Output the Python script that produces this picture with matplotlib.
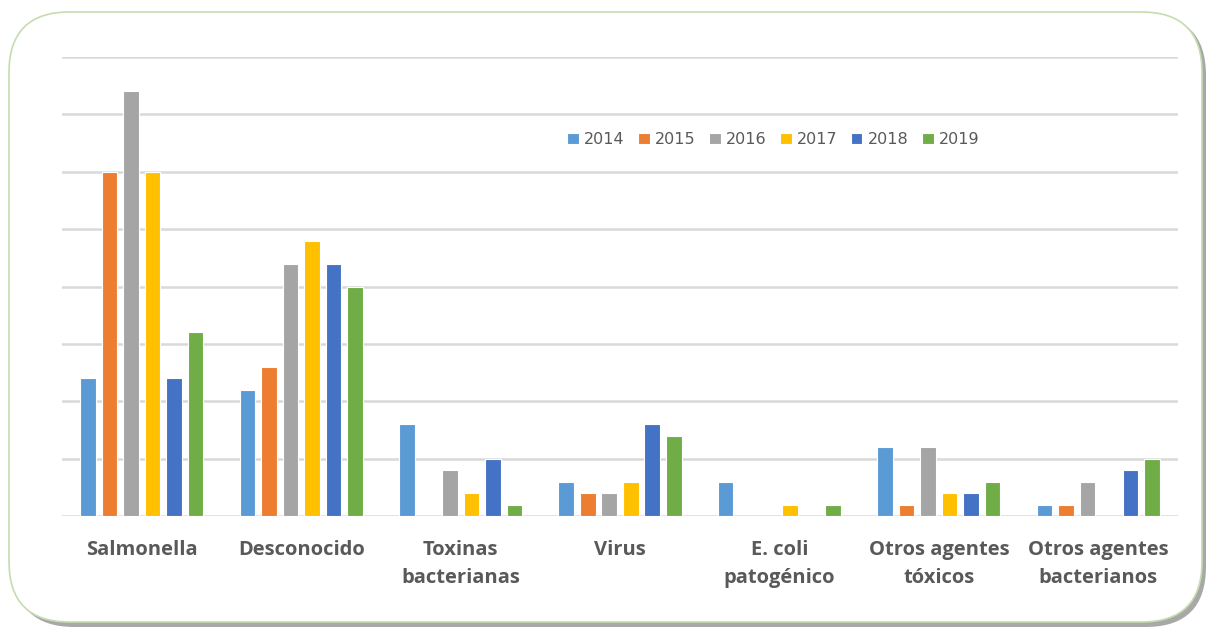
import numpy as np
import matplotlib.pyplot as plt
from matplotlib.patches import FancyBboxPatch

# Brotes por agente causal y año
categorias = ["Salmonella", "Desconocido", "Toxinas\nbacterianas", "Virus",
              "E. coli\npatogénico", "Otros agentes\ntóxicos", "Otros agentes\nbacterianos"]
anios = ["2014", "2015", "2016", "2017", "2018", "2019"]
v2014 = [12, 11, 8, 3, 3, 6, 1]
v2015 = [30, 13, 0, 2, 0, 1, 1]
v2016 = [37, 22, 4, 2, 0, 6, 3]
v2017 = [30, 24, 2, 3, 1, 2, 0]
v2018 = [12, 22, 5, 8, 0, 2, 4]
v2019 = [16, 20, 1, 7, 1, 3, 5]
colores = ["#5b9bd5", "#ed7d31", "#a5a5a5", "#ffc000", "#4472c4", "#70ad47"]

series = [v2014, v2015, v2016, v2017, v2018, v2019]

fig = plt.figure(figsize=(12.08, 6.31), dpi=100)

# marco redondeado con sombra
sombra = FancyBboxPatch((14 / 1208, 4 / 631), 1192 / 1208, 612 / 631,
                        boxstyle="round,pad=0,rounding_size=0.05",
                        transform=fig.transFigure, facecolor="#6f6f6f",
                        edgecolor="none", alpha=0.6, zorder=0,
                        mutation_aspect=1208 / 631)
fig.patches.append(sombra)
marco = FancyBboxPatch((9 / 1208, 9 / 631), 1193 / 1208, 610 / 631,
                       boxstyle="round,pad=0,rounding_size=0.05",
                       transform=fig.transFigure, facecolor="white",
                       edgecolor="#c5dcae", linewidth=1.2, zorder=1,
                       mutation_aspect=1208 / 631)
fig.patches.append(marco)

ax = fig.add_axes([62 / 1208, 1 - 516 / 631, 1116 / 1208, 459 / 631])
ax.set_zorder(2)
ax.patch.set_alpha(0)

x = np.arange(len(categorias))
paso = 0.135
ancho = 0.098
for i, (vals, anio, col) in enumerate(zip(series, anios, colores)):
    ax.bar(x + (i - 2.5) * paso, vals, ancho, color=col, label=anio,
           edgecolor="white", linewidth=0.8, zorder=3)

ax.set_xlim(-0.5, len(categorias) - 0.5)
ax.set_ylim(0, 40)
ax.set_yticks(np.arange(0, 41, 5))
ax.yaxis.grid(True, color="#d9d9d9", linewidth=1.8, zorder=0)
ax.set_yticklabels([])
ax.tick_params(axis="y", length=0)
ax.tick_params(axis="x", length=0, pad=17)
ax.set_xticks(x)
ax.set_xticklabels(categorias, fontsize=14.5, fontweight="bold", color="#595959",
                   family="Open Sans", linespacing=1.55)
for s in ax.spines.values():
    s.set_visible(False)

ax.legend(loc="upper left", bbox_to_anchor=(0.44, 0.868), ncol=6, frameon=False,
          fontsize=11.5, labelcolor="#595959", handlelength=0.7, handleheight=0.7,
          handletextpad=0.35, columnspacing=0.85)

plt.savefig("out.png", dpi=100)
